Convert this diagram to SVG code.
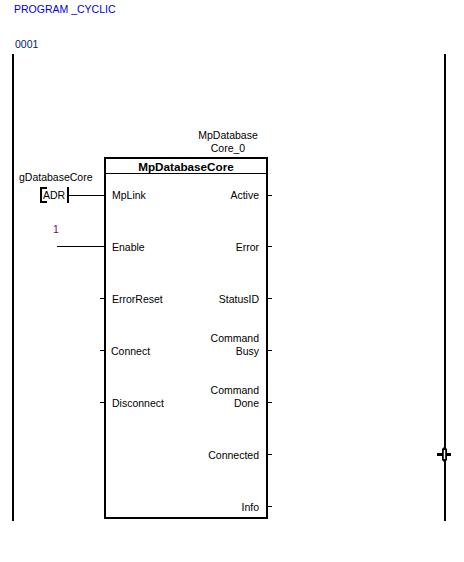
<svg xmlns="http://www.w3.org/2000/svg" width="464" height="562" viewBox="0 0 464 562">
<style>
text{font-family:"Liberation Sans",Arial,sans-serif;font-size:10.5px;fill:#000}
.r{text-anchor:end}.m{text-anchor:middle}
.w{stroke:#000;stroke-width:1;fill:none;shape-rendering:crispEdges}
.h{stroke:#000;stroke-width:2;fill:none;shape-rendering:crispEdges}
</style>
<rect width="464" height="562" fill="#fff"/>
<text id="title" x="14" y="13" style="fill:#0000e0">PROGRAM _CYCLIC</text>
<text id="rung" x="15" y="48" style="fill:#00206a">0001</text>
<g id="rails">
<rect x="12" y="54" width="2" height="467"/>
<rect x="444" y="54" width="2" height="467"/>
</g>
<g id="connectors">
<path class="w" d="M68 195.500H105M57 246.500H105M100 298.500H105M100 350.500H105M100 402.500H105"/>
<path class="w" d="M267 195.500H272M267 246.500H272M267 298.500H272M267 350.500H272M267 402.500H272M267 454.500H272M267 506.500H272"/>
</g>
<g id="block">
<rect class="h" x="105" y="158" width="162" height="360"/>
<path class="w" d="M105 173.500H267"/>
<text class="m" x="186" y="171" style="font-weight:bold;font-size:11.7px">MpDatabaseCore</text>
<text class="m" x="228" y="139">MpDatabase</text>
<text class="m" x="228" y="152">Core_0</text>
<text x="112" y="199">MpLink</text>
<text x="112" y="251">Enable</text>
<text x="112" y="303">ErrorReset</text>
<text x="111" y="355">Connect</text>
<text x="112" y="407">Disconnect</text>
<text class="r" x="259" y="199">Active</text>
<text class="r" x="259" y="251">Error</text>
<text class="r" x="259" y="303">StatusID</text>
<text class="r" x="259" y="342">Command</text>
<text class="r" x="259" y="355">Busy</text>
<text class="r" x="259" y="394">Command</text>
<text class="r" x="259" y="407">Done</text>
<text class="r" x="259" y="459">Connected</text>
<text class="r" x="259" y="511">Info</text>
</g>
<g id="adr">
<text x="19" y="181">gDatabaseCore</text>
<text x="43" y="199">ADR</text>
<path class="h" d="M47 188H41V202H47"/>
<path class="h" d="M68 187V203"/>
</g>
<g id="enable-value">
<text x="53" y="233" style="fill:#800080">1</text>
</g>
<g id="cursor">
<path d="M437 453h5v-4l2-2h1l2 2v4h4v3h-4v4l-2 2h-1l-2-2v-4h-5z" fill="#000"/>
<path d="M444.500 450v9" stroke="#fff" stroke-width="1.500" fill="none"/>
</g>
</svg>
